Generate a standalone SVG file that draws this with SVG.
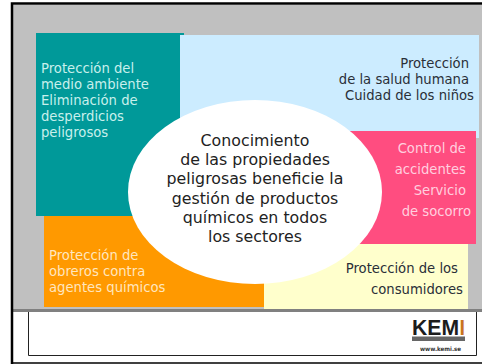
<svg xmlns="http://www.w3.org/2000/svg" width="482" height="364" viewBox="0 0 482 364">
<style>
text{font-family:"DejaVu Sans",Verdana,sans-serif;font-size:13.2px}
.l{fill:#c8f0ec}.o{fill:#ffe6bf}.p{fill:#ffcfdf}.d{fill:#2a2f38}
.c{font-size:15.8px;fill:#222;text-anchor:middle}
.k{font-family:"Liberation Sans",Arial,sans-serif;font-size:22px;font-weight:bold}
</style>
<rect width="482" height="364" fill="#fff"/>
<g id="frame">
<rect x="13" y="5" width="469" height="305" fill="#c0c0c0"/>
<rect x="13" y="309" width="469" height="3" fill="#808080"/>
<path d="M12 364V3.500H482" fill="none" stroke="#000" stroke-width="2.500"/>
<path d="M12 363H482" stroke="#000" stroke-width="1.500"/>
<path d="M28.500 312V355.500H476.500V312" fill="none" stroke="#222" stroke-width="1"/>
</g>
<g id="consumidores">
<rect x="264" y="240" width="204" height="69" fill="#ffffcc"/>
<text class="d" x="458" y="273" text-anchor="end">Protección de los</text>
<text class="d" x="463" y="294" text-anchor="end">consumidores</text>
</g>
<g id="obreros">
<rect x="44" y="214" width="220" height="93" fill="#ff9900"/>
<text class="o" x="49" y="260">Protección de</text>
<text class="o" x="49" y="276">obreros contra</text>
<text class="o" x="49" y="292">agentes químicos</text>
</g>
<g id="salud">
<rect x="180" y="35" width="299" height="103" fill="#ccecff"/>
<text class="d" x="469" y="68" text-anchor="end">Protección</text>
<text class="d" x="469" y="84" text-anchor="end">de la salud humana</text>
<text class="d" x="474" y="100" text-anchor="end">Cuidad de los niños</text>
</g>
<g id="medio">
<path d="M36 33H184V35H180V216H36Z" fill="#009999"/>
<text class="l" x="41" y="73">Protección del</text>
<text class="l" x="41" y="89">medio ambiente</text>
<text class="l" x="41" y="105">Eliminación de</text>
<text class="l" x="41" y="121">desperdicios</text>
<text class="l" x="41" y="137">peligrosos</text>
</g>
<g id="accidentes">
<rect x="340" y="131" width="136" height="113" fill="#ff4d80"/>
<text class="p" x="466" y="153" text-anchor="end">Control de</text>
<text class="p" x="466" y="174" text-anchor="end">accidentes</text>
<text class="p" x="466" y="195" text-anchor="end">Servicio</text>
<text class="p" x="471" y="216" text-anchor="end">de socorro</text>
</g>
<g id="conocimiento">
<ellipse cx="255" cy="192" rx="127" ry="92" fill="#fff"/>
<text class="c" x="255" y="146">Conocimiento</text>
<text class="c" x="255" y="165">de las propiedades</text>
<text class="c" x="255" y="184">peligrosas beneficie la</text>
<text class="c" x="255" y="204">gestión de productos</text>
<text class="c" x="255" y="223">químicos en todos</text>
<text class="c" x="255" y="242">los sectores</text>
</g>
<g id="kemi">
<text class="k" x="412" y="335" textLength="47" lengthAdjust="spacingAndGlyphs" fill="#1c1c1c">KEM</text>
<text class="k" x="459.500" y="335" textLength="5.500" lengthAdjust="spacingAndGlyphs" fill="#c9741e">I</text>
<rect x="412" y="336.500" width="53" height="4.500" fill="#666"/>
<text x="420" y="351" textLength="41" lengthAdjust="spacingAndGlyphs" style="font-size:6px;font-weight:bold" fill="#333">www.kemi.se</text>
</g>
<g id="connectors"></g>
</svg>
